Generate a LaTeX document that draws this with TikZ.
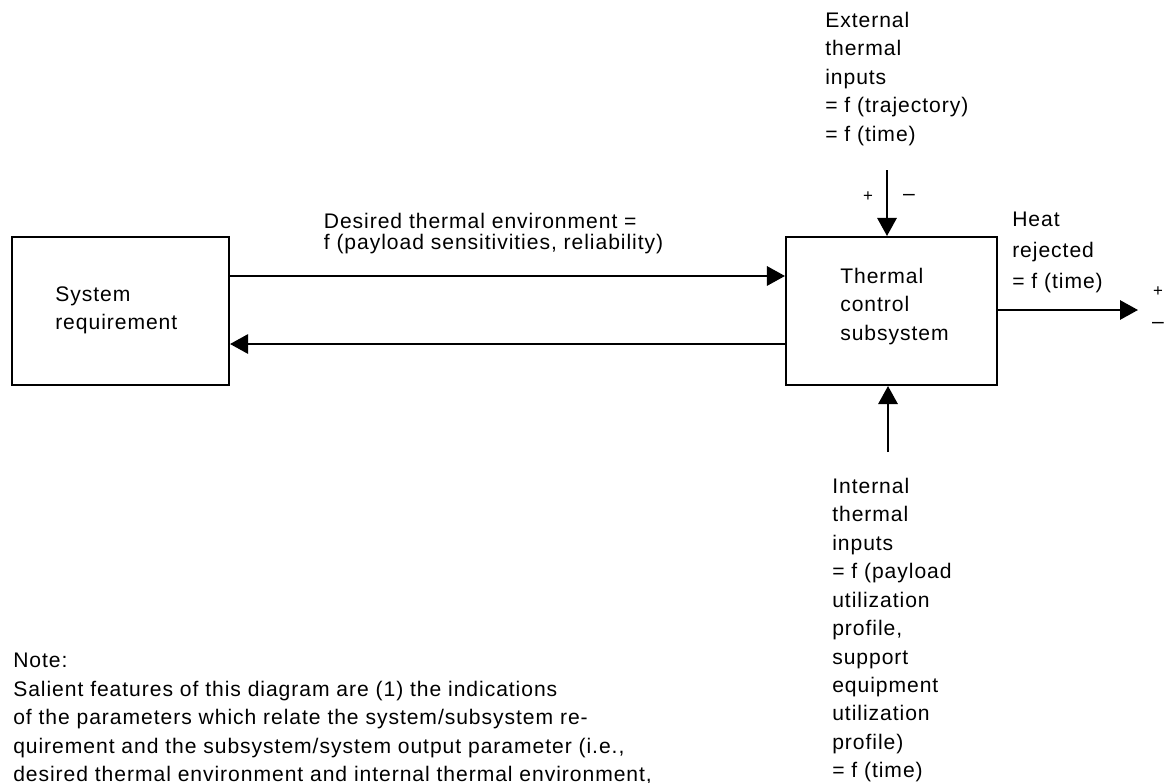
\documentclass[tikz,border=0pt]{standalone}
\usepackage{fontspec}
\setmainfont[LetterSpace=4.5]{Liberation Sans}
\usetikzlibrary{arrows.meta}

\begin{document}
\begin{tikzpicture}[x=0.025cm, y=-0.025cm, font=\fontsize{15}{20.2}\selectfont]
      \useasboundingbox (0,0) rectangle (1169,782);
      \tikzset{blk/.style={draw, rectangle, line width=1.4pt},
               txt/.style={align=left, inner sep=0pt, anchor=north west},
               flow/.style={-{Triangle[length=0.45cm, width=0.48cm]}, line width=1.65pt}}

      \node (sysreq) [blk, minimum width = 5.425cm, minimum height = 3.7cm] at (120.5, 311) {};
      \node (tcs) [blk, minimum width = 5.275cm, minimum height = 3.7cm] at (891.5, 311) {};
      \node (sysreq_txt) [txt] at (55, 286) {System\\requirement};
      \node (tcs_txt) [txt] at (840, 268) {Thermal\\control\\subsystem};

      \coordinate (ext_in) at (887, 170);
      \coordinate (int_in) at (888, 452);
      \coordinate (heat_out) at (1138, 310);

      \draw [flow] ([yshift = 0.875cm]sysreq.east) -- ([yshift = 0.875cm]tcs.west)
            node (desired) [txt, pos = 0.167, yshift = 1.6cm, font=\fontsize{15}{15}\selectfont]
            {Desired thermal environment =\\f (payload sensitivities, reliability)};
      \draw [flow] ([yshift = -0.825cm]tcs.west) -- ([yshift = -0.825cm]sysreq.east);
      \draw [flow] (ext_in) -- (ext_in |- tcs.north);
      \draw [flow] (int_in) -- (int_in |- tcs.south);
      \draw [flow] (tcs.east |- heat_out) -- (heat_out);

      \node (ext_plus) [font=\fontsize{12}{14}\selectfont] at (868, 197) {+};
      \node (ext_minus) at (909, 197) {--};
      \node (out_plus) [font=\fontsize{12}{14}\selectfont] at (1158, 292) {+};
      \node (out_minus) at (1158, 325) {--};

      \node (ext_txt) [txt] at (825, 12) {External\\thermal\\inputs\\= f (trajectory)\\= f (time)};
      \node (heat_txt) [txt, font=\fontsize{15}{22}\selectfont] at (1012, 212) {Heat\\rejected\\= f (time)};
      \node (int_txt) [txt] at (832, 478) {Internal\\thermal\\inputs\\= f (payload\\utilization\\profile,\\support\\equipment\\utilization\\profile)\\= f (time)};
      \node (note) [txt] at (13, 653) {Note:\\Salient features of this diagram are (1) the indications\\of the parameters which relate the system/subsystem re-\\quirement and the subsystem/system output parameter (i.e.,\\desired thermal environment and internal thermal environment,};
    \end{tikzpicture}
\end{document}
